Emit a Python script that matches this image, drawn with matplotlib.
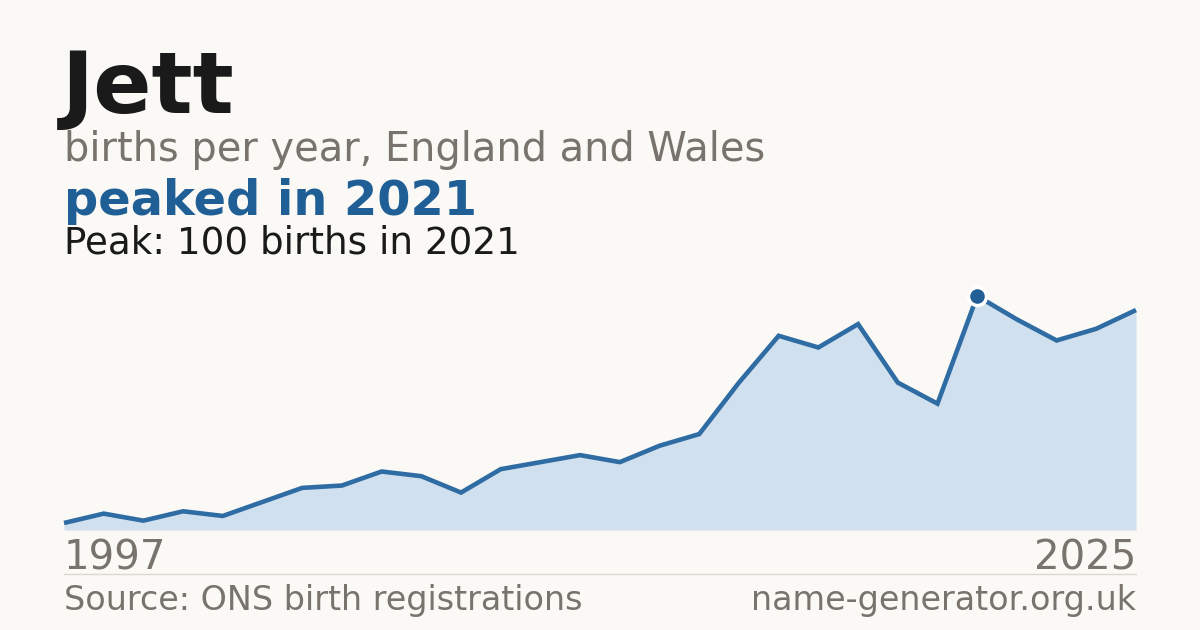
import matplotlib
matplotlib.use('Agg')
from matplotlib import pyplot as plt

plt.rcParams['font.family'] = ['DejaVu Sans']

# births per year for "Jett"
years = list(range(1998, 2026))
births = [3, 7, 4, 8, 6, 12, 18, 19, 25, 23, 16, 26, 29, 32, 29, 36, 41, 63, 83, 78, 88, 63, 54, 100, 90, 81, 86, 94]

name = 'Jett'
subtitle = 'births per year, England and Wales'
headline = 'peaked in 2021'
peak_note = 'Peak: 100 births in 2021'
start_label = '1997'
end_label = '2025'
source = 'Source: ONS birth registrations'
site = 'name-generator.org.uk'

bg = '#faf9f5'
ink = '#1a1a1a'
grey = '#78736c'
blue = '#1f5f96'
line_blue = '#2f6ca3'
fill_blue = '#d0e0ef'

W, H = 1200, 630
fig = plt.figure(figsize=(W / 100, H / 100), dpi=100, facecolor=bg)


def px(x, y):
    return x / W, 1 - y / H


# chart area: x 64..1136, y 530 (zero) .. 296 (peak)
ax = fig.add_axes([64 / W, 1 - 530 / H, (1136 - 64) / W, (530 - 296) / H])
ax.set_facecolor(bg)
ax.fill_between(years, births, 0, color=fill_blue, lw=0)
ax.plot(years, births, color=line_blue, lw=3.3, solid_joinstyle='miter',
        solid_capstyle='butt', clip_on=False)
peak_i = births.index(max(births))
ax.plot(years[peak_i], births[peak_i], 'o', ms=13, color=blue, mec='white', mew=2.5,
        clip_on=False, zorder=5)
ax.set_xlim(years[0], years[-1])
ax.set_ylim(0, max(births))
ax.axis('off')

# header texts
fig.text(*px(62, 113), name, fontsize=62, fontweight='bold', color=ink, va='baseline')
fig.text(*px(64, 161), subtitle, fontsize=28.7, color=grey, va='baseline')
fig.text(*px(64, 215), headline, fontsize=34.5, fontweight='bold', color=blue, va='baseline')
fig.text(*px(64, 253), peak_note, fontsize=26.8, color=ink, va='baseline')

# axis end labels
fig.text(*px(64, 570), start_label, fontsize=29, color=grey, va='baseline')
fig.text(*px(1136, 570), end_label, fontsize=29, color=grey, va='baseline', ha='right')

# footer
fig.add_artist(plt.Line2D([64 / W, 1136 / W], [1 - 574 / H, 1 - 574 / H], color='#dcd8d0', lw=1))
fig.text(*px(64, 610), source, fontsize=24, color=grey, va='baseline')
fig.text(*px(1136, 610), site, fontsize=24, color=grey, va='baseline', ha='right')

fig.savefig('out.png', dpi=100, facecolor=bg)
